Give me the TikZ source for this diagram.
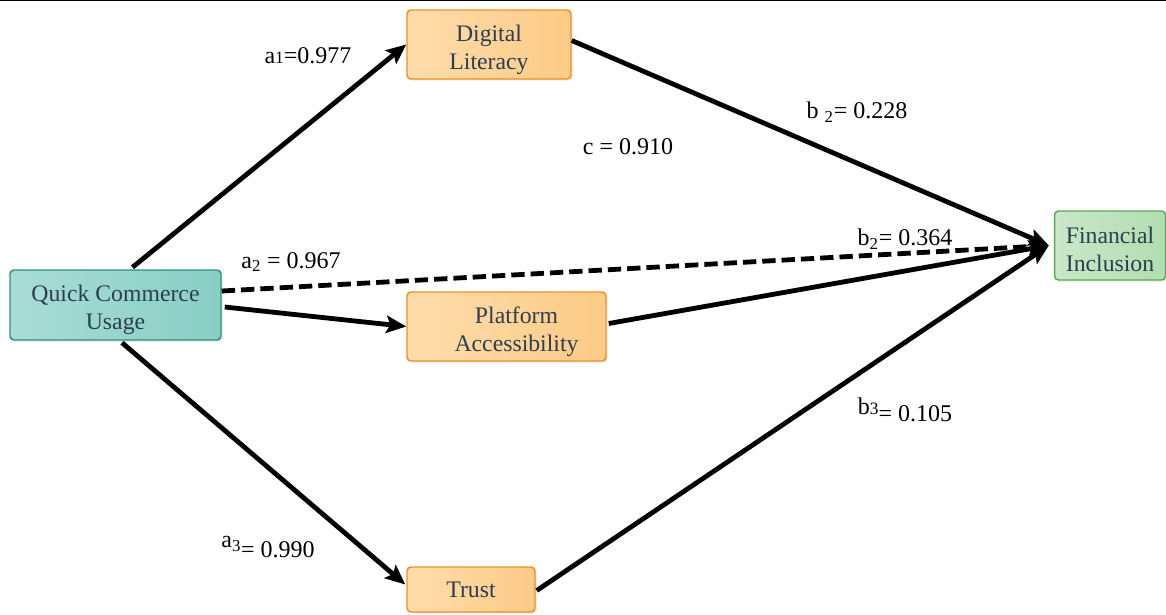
\documentclass[tikz,border=0pt]{standalone}
\usepackage{fontspec}
\setmainfont{Liberation Serif}
\usetikzlibrary{arrows.meta,calc,shadows}
\definecolor{txt}{HTML}{2D3E50}
\definecolor{tealA}{HTML}{A9DDD6}
\definecolor{tealB}{HTML}{88CEC4}
\definecolor{tealD}{HTML}{2A9080}
\definecolor{orA}{HTML}{FEDDAB}
\definecolor{orB}{HTML}{FCCB87}
\definecolor{orD}{HTML}{F0901E}
\definecolor{grA}{HTML}{CAE8C8}
\definecolor{grB}{HTML}{B2DDB1}
\definecolor{grD}{HTML}{5AA85A}
\tikzset{
  box/.style={draw, line width=1.1pt, rounded corners=3pt, inner sep=0pt, align=center,
    text=txt, font=\fontsize{17.8}{21}\selectfont, shading angle=135,
    drop shadow={opacity=0.18, shadow xshift=1.2pt, shadow yshift=-1.2pt}},
  tealbox/.style={box, draw=tealD, left color=tealA, right color=tealB},
  orbox/.style={box, draw=orD, left color=orA, right color=orB},
  grbox/.style={box, draw=grD, left color=grA, right color=grB},
  arr/.style={line width=3.6pt, -{Stealth[length=15pt,width=13pt,inset=3pt]}},
  dsh/.style={arr, dash pattern=on 10pt off 4.5pt},
  lab/.style={font=\fontsize{18}{21}\selectfont, text=black, inner sep=0pt}
}
\newcommand{\smallnum}[1]{{\fontsize{13}{15}\selectfont #1}}
\newcommand{\dn}{\rule{0pt}{20pt}}
\begin{document}
\begin{tikzpicture}[x=0.75pt,y=-0.75pt]
\useasboundingbox (0,0) rectangle (1166,614);
\draw[line width=1.2pt] (0,0.6) -- (1166,0.6);

\node[tealbox, minimum width=211*0.75pt, minimum height=70*0.75pt] (qcu) at (115.5,305) {\dn Quick Commerce\\Usage};
\node[orbox, minimum width=164*0.75pt, minimum height=69*0.75pt] (dl) at (489,44.5) {\dn Digital\\Literacy};
\node[orbox, minimum width=199*0.75pt, minimum height=69*0.75pt] (pa) at (506.5,326.5) {\dn\hspace*{15pt}Platform\\\hspace*{15pt}Accessibility};
\node[orbox, minimum width=128*0.75pt, minimum height=45*0.75pt] (tr) at (471,589.5) {Trust};
\node[grbox, minimum width=111*0.75pt, minimum height=69*0.75pt] (fi) at (1110,245.5) {\rule{0pt}{18.5pt}Financial\\Inclusion};

\coordinate (fin) at ($(fi.west)+(-5,0)$);

\draw[arr] ($(qcu.north)+(17,-2)$) -- (dl.west);
\draw[arr] ($(qcu.east)+(3,2)$) -- (pa.west);
\draw[arr] ($(qcu.south)+(6.5,2)$) -- ($(tr.west)+(-1,-5)$);
\draw[dsh] ($(qcu.east)+(0,-14)$) -- (fin);
\draw[arr] ($(dl.east)+(0,-4)$) -- (fin);
\draw[arr] ($(pa.east)+(2,-3)$) -- (fin);
\draw[arr] ($(tr.east)+(1,1)$) -- (fin);

\node[lab] (la1) at (308,56) {a\smallnum{1}=0.977};
\node[lab] (lc) at (628,147) {c = 0.910};
\node[lab] (lb2a) at (857,112) {b \textsubscript{2}= 0.228};
\node[lab] (lb2b) at (905,239) {b\textsubscript{2}= 0.364};
\node[lab] (la2) at (291,262) {a\textsubscript{2} = 0.967};
\node[lab] (lb3) at (905,410) {\raisebox{5pt}{b\smallnum{3}}= 0.105};
\node[lab] (la3) at (268,547) {\raisebox{7pt}{a\textsubscript{3}}= 0.990};
\end{tikzpicture}
\end{document}
